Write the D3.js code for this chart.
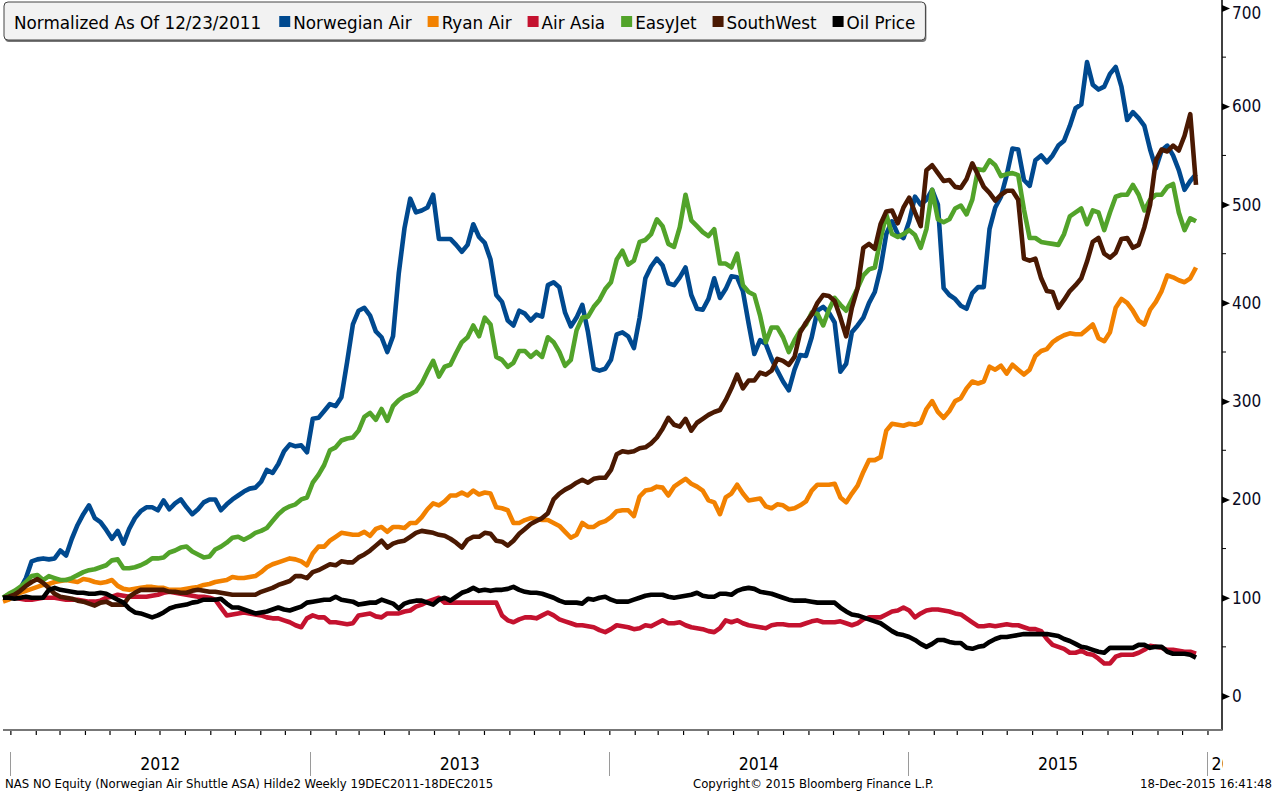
<!DOCTYPE html>
<html><head><meta charset="utf-8">
<script src="https://cdn.jsdelivr.net/npm/d3@7"></script>
<style>
body{margin:0;background:#fff;}
svg{display:block;font-family:"DejaVu Sans Condensed","DejaVu Sans",sans-serif;}
</style></head><body><svg id="chart" width="1275" height="792"></svg>
<script>
// ---------- data ----------
const startDate = "2011-12-23";   // first weekly observation (Fridays)
const legendTitle = "Normalized As Of 12/23/2011";
const seriesNames = ["Norwegian Air","Ryan Air","Air Asia","EasyJet","SouthWest","Oil Price"];
const seriesColors = ["#00498f","#f28100","#c4122f","#52a32a","#4a1902","#000000"];
const yTicks = [0,100,200,300,400,500,600,700];
const yMinorTicks = [50,150,250,350,450,550,650];
const yearLabels = ["2012","2013","2014","2015","2016"];
const footerLeft = "NAS NO Equity (Norwegian Air Shuttle ASA) Hilde2  Weekly 19DEC2011-18DEC2015";
const footerMid = "Copyright\u00A9 2015 Bloomberg Finance L.P.";
const footerRight = "18-Dec-2015 16:41:48";

const norwegianAir = [
100,103,106,109,120,137,139,140,139,140, 148,143,160,174,185,194,181,177,169,160,
168,155,170,181,188,192,192,189,199,190, 196,200,192,185,190,197,200,200,189,195,
200,204,208,211,212,218,230,227,236,249, 256,254,255,248,282,283,290,297,295,304,
340,378,392,395,387,371,365,350,366,430, 476,506,492,494,497,510,465,465,465,459,
452,459,480,467,461,444,408,401,382,377, 392,389,382,388,386,418,421,416,390,376,
385,398,370,333,331,333,342,368,370,366, 354,385,425,437,445,438,420,418,426,436,
408,394,393,404,425,405,414,427,426,412, 379,348,362,358,343,331,320,311,332,347,
346,365,392,396,390,380,330,338,370,377, 385,400,411,435,470,483,470,466,483,508,
500,505,515,500,415,408,404,397,394,410, 416,416,475,497,508,530,557,556,525,519,
545,550,543,550,560,565,580,598,602,645, 622,617,620,633,640,620,586,594,588,580,
556,537,555,560,550,535,515,524,531];
const ryanAir = [
96,98,102,105,107,109,111,113,114,116, 117,118,117,116,119,118,116,115,116,118,
112,109,108,109,110,111,111,110,110,108, 108,108,109,110,111,113,114,116,117,118,
121,120,120,121,122,126,131,134,136,138, 140,139,137,133,145,152,152,158,162,166,
165,164,164,167,163,170,172,167,172,172, 171,176,176,182,190,196,194,198,204,204,
207,204,209,205,207,206,192,191,189,176, 176,179,181,180,179,179,176,173,167,161,
164,176,172,172,176,178,182,188,189,189, 183,203,209,210,213,212,204,213,217,221,
216,213,209,199,197,185,202,206,215,206, 199,200,201,193,191,195,194,190,191,194,
198,209,215,215,215,216,202,197,206,214, 228,240,240,243,270,277,276,275,277,276,
278,292,300,289,283,290,300,303,313,320, 318,320,335,332,336,328,337,332,327,332,
346,351,353,360,364,367,369,368,368,373, 378,364,361,370,395,404,400,392,382,378,
393,401,412,428,426,423,421,425,436];
const airAsia = [
100,100,100,99,98,98,99,100,100,100, 99,98,98,98,97,96,96,97,100,101,
103,102,101,101,101,101,102,103,105,106, 105,104,103,102,101,101,100,98,90,82,
83,84,85,84,83,82,80,79,79,77, 75,72,70,79,82,80,80,75,75,74,
73,74,82,83,84,81,80,84,84,84, 86,87,91,93,96,98,100,95,95,95,
95,95,95,95,95,95,95,82,77,75, 78,80,80,79,82,85,82,78,76,74,
72,72,71,70,67,65,68,72,71,70, 68,69,72,71,74,77,74,74,75,72,
70,69,68,66,65,69,77,75,77,74, 72,71,70,69,72,73,73,72,72,72,
74,76,77,75,75,75,76,74,72,74, 78,80,80,80,83,86,87,90,87,80,
84,87,88,88,87,86,84,83,79,75, 71,71,72,71,72,73,72,72,70,68,
68,66,58,52,50,48,44,44,46,43, 42,38,33,33,40,42,42,42,44,47,
51,50,49,47,47,46,45,45,43];
const easyJet = [
100,104,107,111,116,122,123,118,122,120, 118,118,120,123,126,128,129,131,133,138,
139,130,130,131,133,136,140,140,141,146, 148,151,152,147,144,141,142,149,152,156,
161,162,159,162,166,168,171,178,185,190, 193,195,200,202,217,225,235,250,253,260,
262,263,270,284,288,281,292,280,295,301, 305,307,310,318,330,341,325,335,337,349,
360,365,377,366,385,378,345,342,335,339, 351,351,345,350,345,365,360,350,336,342,
372,385,386,396,403,414,421,444,453,439, 443,462,464,470,485,478,460,457,477,510,
484,478,472,468,475,440,440,436,450,418, 411,408,387,360,375,375,365,350,362,372,
378,390,389,377,393,405,398,392,403,415, 428,434,436,465,490,470,467,470,474,469,
456,475,515,485,482,485,496,499,490,505, 536,535,545,540,529,531,532,530,495,466,
466,462,461,460,459,470,488,492,496,480, 494,492,474,492,508,510,510,520,510,494,
505,510,510,518,521,492,474,486,483];
const southWest = [
100,101,103,107,112,116,119,115,110,104, 101,100,99,97,96,94,92,95,96,93,
93,93,101,105,108,108,108,108,108,106, 106,105,105,107,108,107,106,106,105,104,
103,103,103,103,103,106,108,110,113,115, 117,122,122,120,126,128,131,134,133,137,
136,136,141,144,148,153,158,151,155,157, 158,162,166,168,167,166,164,163,160,156,
151,159,162,162,166,165,158,157,153,158, 165,170,175,178,181,186,200,206,210,213,
217,220,217,221,222,222,230,246,249,248, 249,252,253,257,263,272,283,276,274,282,
270,278,282,286,289,291,301,313,327,313, 321,321,329,327,331,343,341,337,345,370,
380,388,400,408,407,402,385,366,395,415, 456,460,455,480,493,494,481,497,507,492,
478,535,540,532,524,525,518,517,526,542, 530,518,512,504,510,514,514,505,445,443,
445,425,412,411,395,403,412,418,425,442, 462,466,450,446,451,465,466,456,459,477,
500,545,556,554,560,555,570,592,520];
const oilPrice = [
100,100,99,100,101,100,100,100,108,110, 108,107,106,105,105,104,104,105,104,101,
98,95,89,85,84,82,80,82,85,89, 91,92,93,95,96,98,98,98,99,94,
90,90,88,86,84,85,86,88,90,88, 87,89,91,95,96,97,98,98,101,98,
97,96,93,94,95,95,98,96,94,89, 94,96,97,97,95,93,98,100,97,101,
105,107,110,107,108,107,108,108,109,111, 108,106,105,105,104,102,100,97,95,95,
95,94,99,98,100,101,98,96,96,96, 98,100,102,103,103,103,101,100,101,102,
103,105,102,101,101,104,104,103,107,109, 110,109,106,105,104,102,100,98,97,97,
97,96,95,95,95,95,90,86,83,82, 80,78,76,74,70,66,63,62,60,57,
53,50,53,57,57,55,54,54,49,48, 50,51,55,58,60,60,61,62,63,63,
63,63,63,62,61,58,56,53,50,49, 47,45,44,49,49,49,49,49,52,52,
49,50,50,45,43,43,43,42,39];

const seriesValues = [norwegianAir, ryanAir, airAsia, easyJet, southWest, oilPrice];

// ---------- layout ----------
const svg = d3.select("#chart");
const W = 1275, H = 792;
const axisX = 1222, axisBottom = 730;
const wideFont = '"DejaVu Sans",sans-serif';

const parse = d3.timeParse("%Y-%m-%d");
const d0 = parse(startDate);
const dates = d3.range(norwegianAir.length).map(i => d3.timeWeek.offset(d0, i));
const yearStarts = yearLabels.map(y => parse(y + "-01-01"));

const x = d3.scaleTime().domain([dates[0], dates[dates.length - 1]]).range([3, 1196]);
const y = d3.scaleLinear().domain([0, 700]).range([696, 8]);

svg.append("rect").attr("width", W).attr("height", H).attr("fill", "#fff");

// lines
const line = d3.line().x((d, i) => x(dates[i])).y(d => y(d)).curve(d3.curveLinear);
const gLines = svg.append("g");
seriesValues.forEach((vals, k) => {
  gLines.append("path").datum(vals)
    .attr("d", line)
    .attr("fill", "none")
    .attr("stroke", seriesColors[k])
    .attr("stroke-width", 4.6)
    .attr("stroke-linejoin", "round")
    .attr("stroke-linecap", "butt");
});

// right axis
const yAxisG = svg.append("g").attr("transform", `translate(${axisX},0)`);
yAxisG.call(d3.axisRight(y).tickValues(yTicks).tickSize(0).tickPadding(10).tickFormat(d3.format("d")));
yAxisG.select(".domain").remove();
yAxisG.selectAll("text").attr("font-size", 17).attr("fill", "#0a0a1e")
  .attr("font-family", '"DejaVu Sans Condensed","DejaVu Sans",sans-serif')
  .attr("dy", d => d === 700 ? "0.62em" : "0.32em");
yAxisG.selectAll(".tick").append("path")
  .attr("d", "M0,-3.5L8,0L0,3.5Z").attr("fill", "#000");
yAxisG.selectAll(".minor").data(yMinorTicks).enter().append("line")
  .attr("class", "minor")
  .attr("x1", 0).attr("x2", 4)
  .attr("y1", d => y(d)).attr("y2", d => y(d))
  .attr("stroke", "#000").attr("stroke-width", 1);
svg.append("line").attr("x1", axisX).attr("x2", axisX).attr("y1", 0).attr("y2", axisBottom + 0.5)
  .attr("stroke", "#000").attr("stroke-width", 1.5);

// bottom axis with monthly ticks
const monthTicks = d3.timeMonth.range(yearStarts[0], d3.timeDay.offset(yearStarts[yearStarts.length - 1], 1));
const xAxisG = svg.append("g").attr("transform", `translate(0,${axisBottom})`);
xAxisG.call(d3.axisBottom(x).tickValues(monthTicks).tickSize(5).tickFormat(""));
xAxisG.select(".domain").remove();
xAxisG.selectAll(".tick line").attr("stroke", "#000").attr("stroke-width", 1.2);
svg.append("line").attr("x1", 3).attr("x2", axisX).attr("y1", axisBottom).attr("y2", axisBottom)
  .attr("stroke", "#777").attr("stroke-width", 2);

// year separators and labels
const gYears = svg.append("g");
yearStarts.forEach((ys, k) => {
  const sx = Math.round(x(ys)) + 0.5;
  gYears.append("line").attr("x1", sx).attr("x2", sx).attr("y1", 752).attr("y2", 776)
    .attr("stroke", "#9a9a9a").attr("stroke-width", 1);
});
svg.append("clipPath").attr("id", "yearClip").append("rect")
  .attr("x", 0).attr("y", 740).attr("width", axisX + 1).attr("height", 40);
yearLabels.forEach((lab, k) => {
  const ys = yearStarts[k];
  const isLast = k === yearLabels.length - 1;
  const mid = isLast ? null : x(new Date((ys.getTime() + yearStarts[k + 1].getTime()) / 2));
  gYears.append("text")
    .attr("x", isLast ? x(ys) + 4 : mid)
    .attr("y", 770)
    .attr("text-anchor", isLast ? "start" : "middle")
    .attr("font-size", 17.5)
    .attr("fill", "#000")
    .attr("clip-path", "url(#yearClip)")
    .text(lab);
});

// footer
const fy = 788;
svg.append("text").attr("x", 5).attr("y", fy).attr("font-size", 13).attr("fill", "#000").text(footerLeft);
svg.append("text").attr("x", 693).attr("y", fy).attr("font-size", 13).attr("fill", "#000").text(footerMid);
svg.append("text").attr("x", 1272).attr("y", fy).attr("text-anchor", "end").attr("font-size", 13).attr("fill", "#000").text(footerRight);

// legend
const gLeg = svg.append("g").attr("font-family", wideFont);
const shadow = gLeg.append("rect").attr("x", 5).attr("y", 3).attr("rx", 4).attr("ry", 4)
  .attr("height", 39).attr("fill", "#777");
const box = gLeg.append("rect").attr("x", 4).attr("y", 2).attr("rx", 4).attr("ry", 4)
  .attr("height", 38).attr("fill", "#f2f2f2").attr("stroke", "#444").attr("stroke-width", 1);
let cx = 14;
const ty = 28.5;
const legFont = 16.8;
const t0 = gLeg.append("text").attr("x", cx).attr("y", ty).attr("font-size", legFont).attr("fill", "#000").text(legendTitle);
cx += t0.node().getComputedTextLength() + 18;
seriesNames.forEach((nm, k) => {
  gLeg.append("rect").attr("x", cx).attr("y", 16).attr("width", 11).attr("height", 11).attr("fill", seriesColors[k]);
  cx += 14;
  const t = gLeg.append("text").attr("x", cx).attr("y", ty).attr("font-size", legFont).attr("fill", "#000").text(nm);
  cx += t.node().getComputedTextLength() + (k === seriesNames.length - 1 ? 10 : 16);
});
box.attr("width", cx - 4);
shadow.attr("width", cx - 4);
</script></body></html>
